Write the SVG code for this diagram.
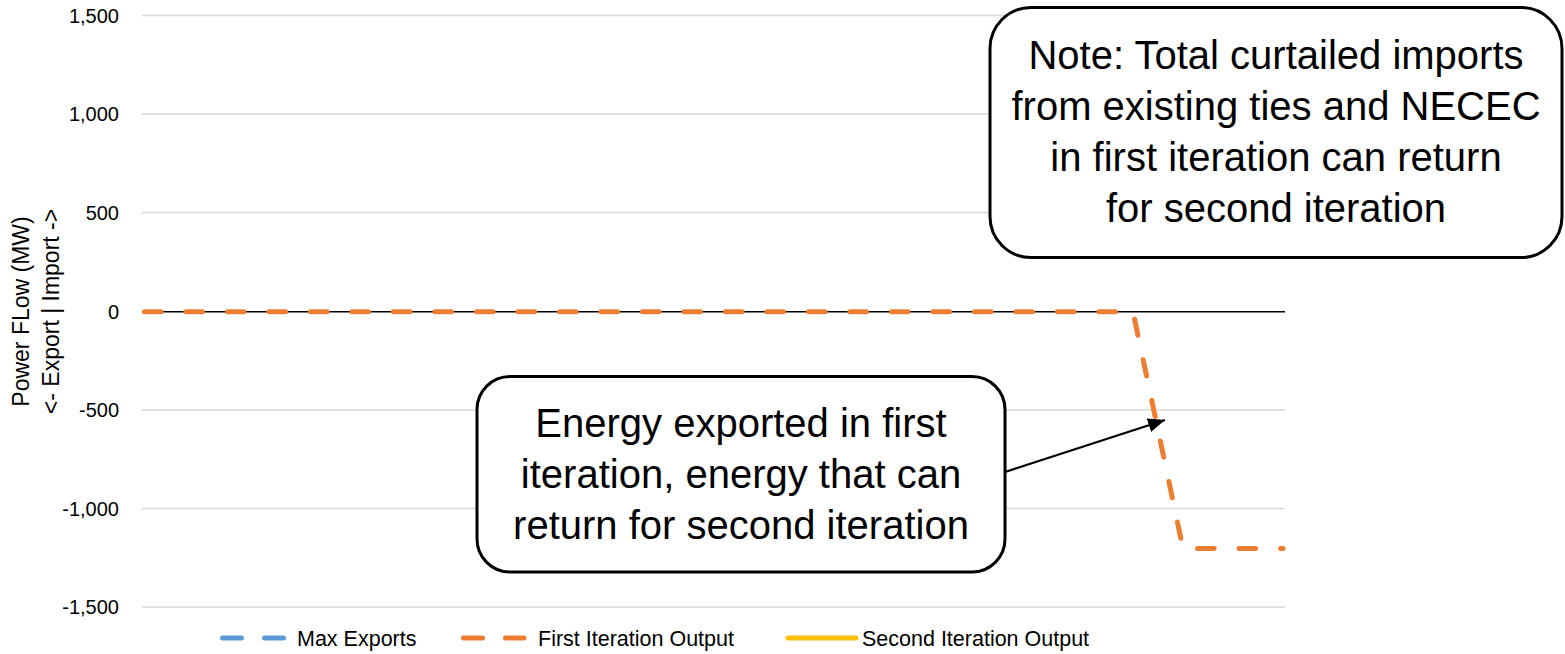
<svg xmlns="http://www.w3.org/2000/svg" width="1565" height="654" viewBox="0 0 1565 654">
<style>
  text { font-family: "Liberation Sans", Arial, sans-serif; fill: #000; }
  .tick { font-size: 20px; text-anchor: end; }
  .axtitle { font-size: 23px; text-anchor: middle; }
  .leg { font-size: 21.5px; }
  .grid { stroke: #D9D9D9; stroke-width: 1.3; fill: none; }
  .box { fill: #FFFFFF; stroke: #000; stroke-width: 3; }
  .boxtext { font-size: 40px; text-anchor: middle; }
  .series { fill: none; stroke-width: 5; stroke-linecap: round; }
</style>
<defs>
  <marker id="arrow" markerUnits="userSpaceOnUse" markerWidth="20" markerHeight="16" refX="17" refY="7" orient="auto">
    <path d="M0,0 L17,7 L0,14 Z" fill="#000"/>
  </marker>
</defs>
<rect width="1565" height="654" fill="#FFFFFF"/>

<g id="gridlines">
  <line class="grid" x1="142" y1="15.5" x2="1285" y2="15.5"/>
  <line class="grid" x1="142" y1="114" x2="1285" y2="114"/>
  <line class="grid" x1="142" y1="212.5" x2="1285" y2="212.5"/>
  <line class="grid" x1="142" y1="410" x2="1285" y2="410"/>
  <line class="grid" x1="142" y1="508.5" x2="1285" y2="508.5"/>
  <line class="grid" x1="142" y1="607" x2="1285" y2="607"/>
</g>

<g id="y-axis">
  <text class="tick" x="119" y="22.5">1,500</text>
  <text class="tick" x="119" y="121">1,000</text>
  <text class="tick" x="119" y="219.5">500</text>
  <text class="tick" x="119" y="319">0</text>
  <text class="tick" x="119" y="417">-500</text>
  <text class="tick" x="119" y="515.5">-1,000</text>
  <text class="tick" x="119" y="614">-1,500</text>
  <text class="axtitle" transform="translate(29,311.5) rotate(-90)">Power FLow (MW)</text>
  <text class="axtitle" transform="translate(58.5,311.5) rotate(-90)">&lt;- Export  |  Import -&gt;</text>
</g>

<g id="zero-axis">
  <line x1="142" y1="311.8" x2="1285" y2="311.8" stroke="#000" stroke-width="1.6"/>
</g>

<g id="series-first-iteration">
  <path class="series" stroke="#ED7D31" stroke-dasharray="16.5 25" d="M144.5,311.8 L1133,311.8 L1183,548.5 L1283,548.5"/>
</g>

<g id="legend">
  <line class="series" stroke="#5B9BD5" stroke-dasharray="19 23" x1="222.5" y1="638" x2="285" y2="638"/>
  <text class="leg" x="297" y="645.5">Max Exports</text>
  <line class="series" stroke="#ED7D31" stroke-dasharray="19 23" x1="463.5" y1="638" x2="524" y2="638"/>
  <text class="leg" x="538" y="645.5">First Iteration Output</text>
  <line x1="788" y1="638" x2="856" y2="638" stroke="#FFC000" stroke-width="5" stroke-linecap="round"/>
  <text class="leg" x="862" y="645.5">Second Iteration Output</text>
</g>

<g id="note-callout">
  <rect class="box" x="990" y="7.5" width="572" height="250" rx="41" ry="41"/>
  <text class="boxtext" x="1276" y="69">Note: Total curtailed imports</text>
  <text class="boxtext" x="1276" y="120">from existing ties and NECEC</text>
  <text class="boxtext" x="1276" y="171">in first iteration can return</text>
  <text class="boxtext" x="1276" y="222">for second iteration</text>
</g>

<g id="energy-callout">
  <rect class="box" x="477" y="376.5" width="528" height="195.5" rx="33" ry="33"/>
  <text class="boxtext" x="741" y="437">Energy exported in first</text>
  <text class="boxtext" x="741" y="488">iteration, energy that can</text>
  <text class="boxtext" x="741" y="539">return for second iteration</text>
</g>

<g id="connectors">
  <line x1="1005" y1="472" x2="1165" y2="420" stroke="#000" stroke-width="2.2" marker-end="url(#arrow)"/>
</g>
</svg>
